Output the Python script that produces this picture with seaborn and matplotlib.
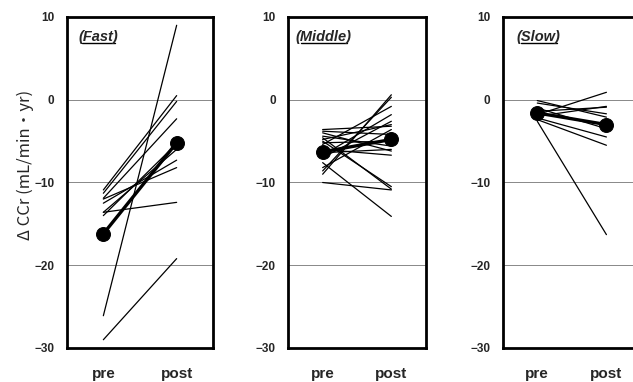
import numpy as np
import pandas as pd
import matplotlib
matplotlib.use("Agg")
import matplotlib.pyplot as plt
import seaborn as sns

# ---- data ----
time_labels = ["pre", "post"]
panel_names = ["Fast", "Middle", "Slow"]

fast_pre = [-26.1, -29.0, -10.9, -11.3, -11.9, -12.5, -13.6, -13.6, -14.0, -12.0]
fast_post = [9.0, -19.2, 0.5, -0.2, -2.3, -7.3, -12.4, -6.0, -5.3, -8.2]
fast_mean = [-16.2, -5.2]

middle_pre = [-9.0, -8.6, -10.0, -7.6, -5.0, -4.6, -3.6, -4.0, -5.4, -6.7,
              -4.4, -8.2, -6.0, -3.8, -7.0, -5.2, -4.8, -6.4]
middle_post = [0.6, 0.3, -10.9, -14.1, -10.5, -10.8, -3.2, -6.2, -0.8, -1.8,
               -5.6, -3.6, -6.7, -4.2, -2.6, -5.0, -3.0, -6.0]
middle_mean = [-6.3, -4.8]

slow_pre = [-2.6, -0.1, -0.4, -1.8, -2.0, -1.4, -2.2, -2.4, -1.0]
slow_post = [-16.3, -2.1, -1.7, 0.9, -0.8, -0.9, -4.5, -5.5, -3.5]
slow_mean = [-1.6, -3.0]

y_ticks = [10, 0, -10, -20, -30]
grid_vals = [0, -10, -20]

panels = [
    (fast_pre, fast_post, fast_mean),
    (middle_pre, middle_post, middle_mean),
    (slow_pre, slow_post, slow_mean),
]

sns.set_style("white")
plt.rcParams["font.family"] = ["Liberation Sans", "DejaVu Sans"]

W, H = 633, 382
fig = plt.figure(figsize=(W / 100, H / 100), dpi=100)

# axes boxes in pixels: (left, right)
boxes = [(66.7, 213.3), (288.3, 425.7), (502.7, 641.0)]
top_px, bot_px = 17, 348
title_x = [0.08, 0.05, 0.10]

axes = []
for i, ((pre, post, mean), (l, r)) in enumerate(zip(panels, boxes)):
    ax = fig.add_axes([l / W, 1 - bot_px / H, (r - l) / W, (bot_px - top_px) / H])
    axes.append(ax)
    n = len(pre)
    df = pd.DataFrame({
        "subject": list(range(n)) * 2,
        "time": [0] * n + [1] * n,
        "value": list(pre) + list(post),
    })
    for g in grid_vals:
        ax.axhline(g, color="#888888", lw=0.7, zorder=0)
    sns.lineplot(data=df, x="time", y="value", units="subject", estimator=None,
                 color="black", lw=0.9, ax=ax, legend=False)
    mdf = pd.DataFrame({"time": [0, 1], "value": mean})
    sns.lineplot(data=mdf, x="time", y="value", color="black", lw=2.4,
                 marker="o", markersize=10, markeredgecolor="black", ax=ax,
                 legend=False)
    ax.set_xlim(-0.5, 1.5)
    ax.set_ylim(-30, 10)
    ax.set_xticks([0, 1])
    ax.set_xticklabels(time_labels, fontsize=11, fontweight="bold")
    ax.set_yticks(y_ticks)
    ax.set_yticklabels([str(v).replace("-", "−") for v in y_ticks],
                       fontsize=8.5, fontweight="bold")
    ax.tick_params(axis="y", direction="in", length=3, width=1.2, pad=9)
    ax.tick_params(axis="x", length=0, pad=14)
    ax.set_xlabel("")
    ax.set_ylabel("")
    for s in ax.spines.values():
        s.set_visible(True)
        s.set_color("black")
        s.set_linewidth(2.0)
    t = ax.text(title_x[i], 0.96, "(" + panel_names[i] + ")", transform=ax.transAxes,
                fontsize=10.5, fontweight="bold", fontstyle="italic",
                ha="left", va="top")

fig.text(25 / W, 1 - 165 / H, "Δ CCr (mL/min・yr)", rotation=90,
         ha="center", va="center", fontsize=12,
         family=["Noto Sans CJK JP", "DejaVu Sans"])

# underline panel titles (word only)
fig.canvas.draw()
renderer = fig.canvas.get_renderer()
for ax in axes:
    for t in ax.texts:
        bb = t.get_window_extent(renderer=renderer)
        inv = ax.transAxes.inverted()
        (x0, y0), (x1, y1) = inv.transform([[bb.x0, bb.y0], [bb.x1, bb.y1]])
        w = x1 - x0
        ax.plot([x0 + 0.10 * w, x1 - 0.08 * w], [y0 + 0.005, y0 + 0.005],
                color="black", lw=1.0, transform=ax.transAxes, clip_on=False)

fig.savefig("out.png", dpi=100)
